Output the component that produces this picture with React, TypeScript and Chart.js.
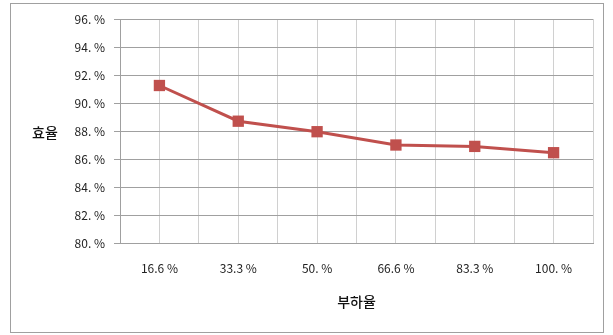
import React, { useEffect, useRef } from "react";
import { Chart, registerables } from "chart.js";

Chart.register(...registerables);

// 부하율별 효율
const loadLabels = ["16.6 %", "33.3 %", "50. %", "66.6 %", "83.3 %", "100. %"];
const efficiency = [91.25, 88.7, 87.95, 87.0, 86.9, 86.45];
const yTicks = [80, 82, 84, 86, 88, 90, 92, 94, 96];

const yTitle = "효율";
const xTitle = "부하율";

const FONT = "'Noto Sans CJK KR', 'Malgun Gothic', sans-serif";
const RED = "#C0504D";

export default function App() {
  const canvasRef = useRef<HTMLCanvasElement | null>(null);

  useEffect(() => {
    const canvas = canvasRef.current;
    if (!canvas) return;

    // categories sit on odd half-steps so grid lines fall on centres and edges
    const points = efficiency.map((v, i) => ({ x: 2 * i + 1, y: v }));

    const titlePlugin = {
      id: "axisTitles",
      afterDraw(chart: any) {
        const { ctx, chartArea } = chart;
        ctx.save();
        ctx.fillStyle = "#111";
        ctx.font = `500 14px ${FONT}`;
        ctx.textAlign = "center";
        ctx.textBaseline = "middle";
        ctx.fillText(yTitle, 45, (chartArea.top + chartArea.bottom) / 2 + 2);
        ctx.fillText(xTitle, (chartArea.left + chartArea.right) / 2, 302);
        ctx.restore();
      },
    };

    const chart = new Chart(canvas, {
      type: "line",
      data: {
        datasets: [
          {
            data: points,
            borderColor: RED,
            backgroundColor: RED,
            borderWidth: 3,
            pointStyle: "rect",
            pointRadius: 8,
            pointHoverRadius: 8,
            pointBorderWidth: 0,
            tension: 0,
          },
        ],
      },
      options: {
        responsive: false,
        animation: false,
        events: [],
        layout: { padding: { top: 19, right: 20, left: 0, bottom: 0 } },
        plugins: {
          legend: { display: false },
          tooltip: { enabled: false },
        },
        scales: {
          x: {
            type: "linear",
            min: 0,
            max: loadLabels.length * 2,
            afterBuildTicks(scale: any) {
              const t = [];
              for (let i = 0; i <= loadLabels.length * 2; i++) t.push({ value: i });
              scale.ticks = t;
            },
            afterFit(scale: any) {
              scale.height = 92;
            },
            border: { color: "#a0a0a0", width: 1 },
            grid: {
              color: "#d0d0d0",
              lineWidth: 1,
              drawTicks: false,
            },
            ticks: {
              autoSkip: false,
              maxRotation: 0,
              padding: 18,
              color: "#222",
              font: { family: FONT, size: 12 },
              callback: (v: any) => {
                const n = Number(v);
                return n % 2 === 1 ? loadLabels[(n - 1) / 2] : "";
              },
            },
          },
          y: {
            type: "linear",
            min: yTicks[0],
            max: yTicks[yTicks.length - 1],
            afterBuildTicks(scale: any) {
              scale.ticks = yTicks.map((v) => ({ value: v }));
            },
            afterFit(scale: any) {
              scale.width = 120;
            },
            border: { color: "#a0a0a0", width: 1 },
            grid: {
              color: "#a0a0a0",
              lineWidth: 1,
              tickLength: 6,
              tickColor: "#a0a0a0",
            },
            ticks: {
              padding: 9,
              color: "#222",
              font: { family: FONT, size: 12 },
              callback: (v: any) => `${v}. %`,
            },
          },
        },
      },
      plugins: [titlePlugin],
    });

    return () => chart.destroy();
  }, []);

  return (
    <div style={{ position: "fixed", left: 0, top: 0, width: 613, height: 335, background: "#fff" }}>
      <canvas ref={canvasRef} width={613} height={335} style={{ position: "absolute", left: 0, top: 0 }} />
      <div
        style={{
          position: "absolute",
          left: 10,
          top: 3,
          width: 592,
          height: 328,
          border: "1px solid #a0a0a0",
          pointerEvents: "none",
        }}
      />
    </div>
  );
}
